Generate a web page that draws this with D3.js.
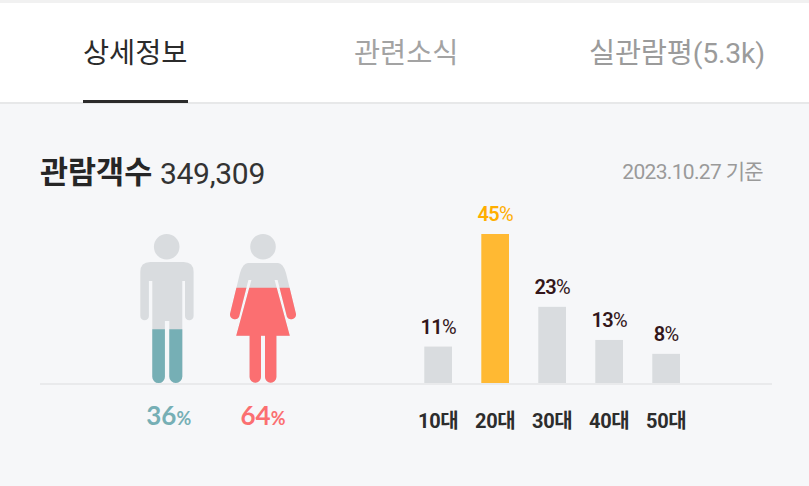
<!DOCTYPE html>
<html><head><meta charset="utf-8">
<script src="https://cdn.jsdelivr.net/npm/d3@7"></script>
<style>
html,body{margin:0;padding:0;background:#f6f7f9;overflow:hidden}
text{font-family:Roboto,"Noto Sans CJK KR",sans-serif}
</style></head><body>
<script>
const tabs = ["상세정보", "관련소식", "실관람평(5.3k)"];
const titleLabel = "관람객수";
const audience = "349,309";
const dateLabel = "2023.10.27 기준";
const ages = ["10대", "20대", "30대", "40대", "50대"];
const ageValues = [11, 45, 23, 13, 8.8];
const ageLabels = ["11", "45", "23", "13", "8"];
const highlightAge = "20대";
const genders = ["male", "female"];
const genderValues = [36, 64];

const W = 809, H = 486, base = 383;
const svg = d3.select("body").append("svg").attr("width", W).attr("height", H).style("display", "block");
svg.append("rect").attr("width", W).attr("height", H).attr("fill", "#f6f7f9");
svg.append("rect").attr("width", W).attr("height", 3).attr("fill", "#f1f1f1");
svg.append("rect").attr("y", 3).attr("width", W).attr("height", 99).attr("fill", "#fff");
svg.append("rect").attr("y", 102).attr("width", W).attr("height", 2).attr("fill", "#e7e8e9");

// tabs
const tabStyle = [
  {x: 83, fill: "#2b2b2b", ls: -0.05},
  {x: 354, fill: "#a3a3a3", ls: -0.05},
  {x: 589, fill: "#9b9b9b", ls: -0.2}
];
svg.selectAll(".tab").data(tabs).join("text").attr("class", "tab")
  .attr("x", (d, i) => tabStyle[i].x).attr("y", 63)
  .attr("fill", (d, i) => tabStyle[i].fill)
  .attr("font-size", 28.4)
  .attr("letter-spacing", (d, i) => tabStyle[i].ls)
  .text(d => d);
svg.append("rect").attr("x", 83).attr("y", 100).attr("width", 105).attr("height", 3).attr("fill", "#2b2b2b");

// header
svg.append("text").attr("x", 40).attr("y", 183).attr("font-size", 30.5).attr("font-weight", 700).attr("fill", "#262626").text(titleLabel);
svg.append("text").attr("x", 160).attr("y", 184).attr("font-size", 30).attr("letter-spacing", -0.3).attr("fill", "#333").text(audience);
svg.append("text").attr("x", 763).attr("y", 179).attr("text-anchor", "end").attr("font-size", 21).attr("letter-spacing", -0.66).attr("fill", "#9a9a9a").text(dateLabel);

// baseline
svg.append("rect").attr("x", 40).attr("y", base).attr("width", 732).attr("height", 2).attr("fill", "#e9eaec");

// bars
const x = d3.scaleBand().domain(ages).range([409.65, 694.65]).paddingInner(0.514).paddingOuter(0.257);
const yBar = d3.scaleLinear().domain([0, 45]).range([base, 234]);
svg.selectAll(".bar").data(ages).join("rect").attr("class", "bar")
  .attr("x", d => x(d)).attr("width", x.bandwidth())
  .attr("y", (d, i) => yBar(ageValues[i]))
  .attr("height", (d, i) => base - yBar(ageValues[i]))
  .attr("fill", d => d === highlightAge ? "#ffb933" : "#d9dcdf");

const lab = svg.selectAll(".barlabel").data(ages).join("text").attr("class", "barlabel")
  .attr("x", d => x(d) + x.bandwidth() / 2)
  .attr("y", (d, i) => yBar(ageValues[i]) - 13)
  .attr("text-anchor", "middle")
  .attr("letter-spacing", -0.7)
  .attr("fill", d => d === highlightAge ? "#ffae00" : "#33161a");
lab.append("tspan").attr("font-size", 20).attr("font-weight", 600).text((d, i) => ageLabels[i]);
lab.append("tspan").attr("font-size", 20).attr("font-weight", 400).text("%");

const axis = svg.append("g").attr("transform", `translate(0,${base})`)
  .call(d3.axisBottom(x).tickSize(0).tickPadding(31));
axis.select(".domain").remove();
axis.selectAll("text").attr("font-size", 20).attr("font-weight", 700).attr("fill", "#2d2d2d")
  .attr("letter-spacing", -0.4)
  .attr("font-family", 'Roboto,"Noto Sans CJK KR",sans-serif');

// gender figures
const yFig = d3.scaleLinear().domain([0, 100]).range([base, 234]);
const figX = d3.scalePoint().domain(genders).range([166.7, 263]);
const figColor = d3.scaleOrdinal().domain(genders).range(["#76afb5", "#fb6f71"]);
const maleIcon = "M-16.4 -121 Q-26.4 -121 -26.4 -111 L-26.4 -67 A4.3 4.3 0 0 0 -17.8 -67 L-17.8 -102 L-14.4 -102 L-14.4 -6.3 A6.3 6.3 0 0 0 -1.8 -6.3 L-1.8 -62 L2.6 -62 L2.6 -6.5 A6.5 6.5 0 0 0 15.6 -6.5 L15.6 -102 L18.3 -102 L18.3 -67 A4.3 4.3 0 0 0 26.9 -67 L26.9 -111 Q26.9 -121 16.9 -121 Z";
const femaleIcon = "M-15 -120 L15 -120 Q20 -120 23 -110 L33 -69 A4.9 4.9 0 0 1 24 -66 L14.6 -103 L11.6 -103 L26.8 -47.3 L13.4 -47.3 L13.4 -6 A5.7 5.7 0 0 1 2 -6 L2 -47.3 L-2 -47.3 L-2 -6 A5.7 5.7 0 0 1 -13.4 -6 L-13.4 -47.3 L-26.8 -47.3 L-11.6 -103 L-14.6 -103 L-24 -66 A4.9 4.9 0 0 1 -33 -69 L-23 -110 Q-20 -120 -15 -120 Z";
const icons = {male: maleIcon, female: femaleIcon};
const figs = svg.selectAll(".fig").data(genders).join("g").attr("class", "fig")
  .attr("transform", d => `translate(${figX(d)},${base})`);
figs.append("circle").attr("cy", -136.3).attr("r", 12.8).attr("fill", "#d9dcdf");
figs.append("path").attr("d", d => icons[d]).attr("fill", "#d9dcdf");
const defs = svg.append("defs");
genders.forEach((g, i) => {
  defs.append("clipPath").attr("id", "clip-" + g).append("rect")
    .attr("x", -60).attr("width", 120)
    .attr("y", yFig(genderValues[i]) - base)
    .attr("height", base - yFig(genderValues[i]));
});
figs.append("path").attr("d", d => icons[d]).attr("fill", d => figColor(d)).attr("clip-path", d => `url(#clip-${d})`);

const gl = svg.selectAll(".genderlabel").data(genders).join("text").attr("class", "genderlabel")
  .attr("x", (d, i) => figX(d) + [2, 0][i]).attr("y", 425).attr("text-anchor", "middle")
  .attr("fill", d => figColor(d));
gl.append("tspan").attr("font-size", 26).attr("font-weight", 700).attr("font-family", "Lato,Roboto,sans-serif").text((d, i) => genderValues[i]);
gl.append("tspan").attr("font-size", 18).attr("font-weight", 700).attr("font-family", "Lato,Roboto,sans-serif").text("%");
</script>
</body></html>
